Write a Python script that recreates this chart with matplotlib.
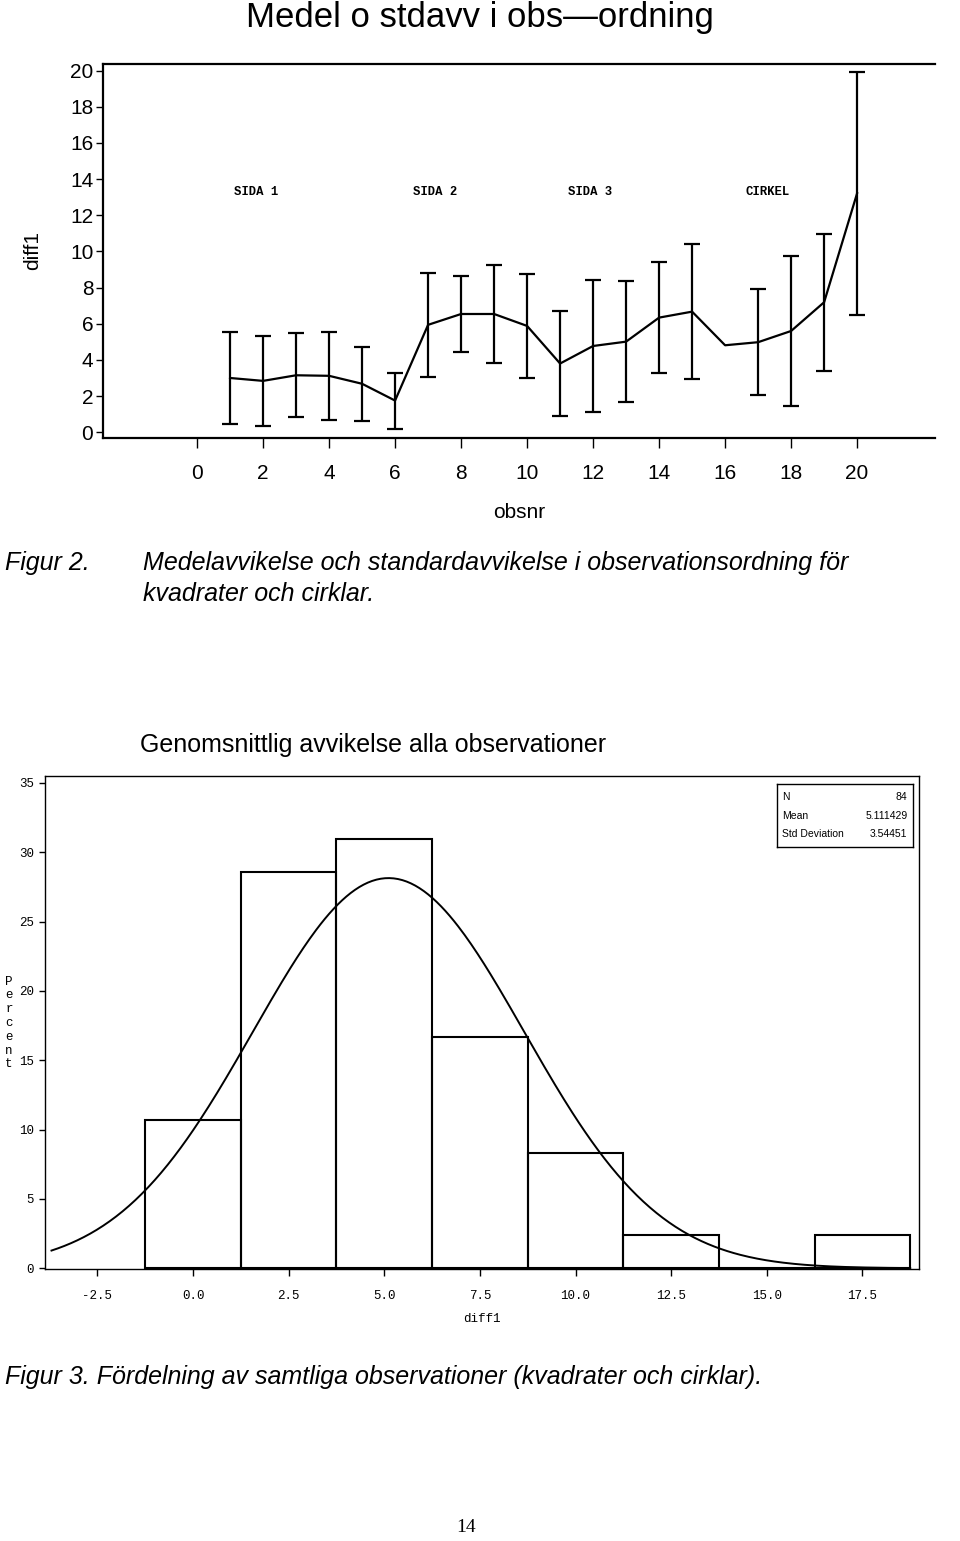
import numpy as np
import matplotlib
matplotlib.use("Agg")
import matplotlib.pyplot as plt

# Figur 2: medelavvikelse och standardavvikelse per observation
obsnr = np.arange(1, 21)
medel = [3.00, 2.84, 3.15, 3.12, 2.68, 1.75, 5.94, 6.54, 6.54, 5.88,
         3.80, 4.77, 5.01, 6.34, 6.67, 4.81, 4.98, 5.60, 7.19, 13.22]
stdavv = [2.57, 2.51, 2.33, 2.43, 2.05, 1.55, 2.88, 2.10, 2.72, 2.86,
          2.88, 3.64, 3.34, 3.09, 3.73, np.nan, 2.94, 4.16, 3.78, 6.73]
sidor = ["SIDA 1", "SIDA 2", "SIDA 3", "CIRKEL"]
sida_x = [1.8, 7.2, 11.9, 17.3]

# Figur 3: fördelning av diff1 (procent per klass)
klass_mitt = [0.0, 2.5, 5.0, 7.5, 10.0, 12.5, 15.0, 17.5]
antal = [9, 24, 26, 14, 7, 2, 0, 2]
N = 84
mean_diff = 5.111429
std_diff = 3.54451

W, H = 960, 1541
fig = plt.figure(figsize=(W / 100, H / 100), dpi=100)


def fx(px):
    return px / W


def fy(py):
    return 1 - py / H


sans = ["Liberation Sans", "DejaVu Sans"]
mono = ["Liberation Mono", "DejaVu Sans Mono"]

# ---------- övre diagrammet ----------
ax = fig.add_axes([fx(103), fy(438), fx(935) - fx(103), fy(64) - fy(438)])
ax.errorbar(obsnr, medel, yerr=stdavv, color="black", lw=1.6,
            elinewidth=1.6, capsize=6, capthick=1.6)
for s, x in zip(sidor, sida_x):
    ax.text(x, 13.3, s, ha="center", va="center", fontsize=8.8,
            family=mono, fontweight="bold")
ax.set_xlim(-2.85, 22.36)
ax.set_ylim(-0.32, 20.37)
ax.set_xticks(np.arange(0, 21, 2))
ax.set_yticks(np.arange(0, 21, 2))
ax.spines["right"].set_visible(False)
for sp in ax.spines.values():
    sp.set_linewidth(1.6)
ax.tick_params(axis="x", direction="out", length=7, width=1, pad=12,
               labelsize=15)
ax.tick_params(axis="y", direction="out", length=5, width=1, pad=2,
               labelsize=15)
for lab in ax.get_xticklabels() + ax.get_yticklabels():
    lab.set_family(sans)
ax.set_xlabel("obsnr", fontsize=15, family=sans, labelpad=14)
ax.set_ylabel("diff1", fontsize=15, family=sans, labelpad=20)

fig.text(0.5, fy(18), "Medel o stdavv i obs\u2014ordning", ha="center",
         va="center", fontsize=25, family=sans)

fig.text(fx(5), fy(563), "Figur 2.", ha="left", va="center", fontsize=18,
         style="italic", family=sans)
fig.text(fx(143), fy(563),
         "Medelavvikelse och standardavvikelse i observationsordning för",
         ha="left", va="center", fontsize=18, style="italic", family=sans)
fig.text(fx(143), fy(594), "kvadrater och cirklar.", ha="left", va="center",
         fontsize=18, style="italic", family=sans)

# ---------- histogrammet ----------
procent = np.array(antal) / N * 100
ax2 = fig.add_axes([fx(45), fy(1269), fx(919) - fx(45), fy(776) - fy(1269)])
ax2.bar(klass_mitt, procent, width=2.5, fill=False, edgecolor="black",
        lw=1.5)
xs = np.linspace(-3.7, 18.75, 400)
ys = 100 * 2.5 * np.exp(-0.5 * ((xs - mean_diff) / std_diff) ** 2) / (
    std_diff * np.sqrt(2 * np.pi))
ax2.plot(xs, ys, color="black", lw=1.4)
ax2.set_xlim(-3.87, 18.98)
ax2.set_ylim(-0.05, 35.5)
ax2.set_xticks(np.arange(-2.5, 17.6, 2.5))
ax2.set_yticks(np.arange(0, 36, 5))
ax2.set_xticklabels([f"{v:.1f}" for v in np.arange(-2.5, 17.6, 2.5)])
for sp in ax2.spines.values():
    sp.set_linewidth(1.0)
ax2.tick_params(axis="x", direction="out", length=5, width=1, pad=10,
                labelsize=9)
ax2.tick_params(axis="y", direction="out", length=4, width=1, pad=4,
                labelsize=9)
for lab in ax2.get_xticklabels() + ax2.get_yticklabels():
    lab.set_family(mono)
ax2.set_xlabel("diff1", fontsize=9, family=mono, labelpad=8)

fig.text(fx(9), fy(1023), "\n".join("Percent"), ha="center", va="center",
         fontsize=9, family=mono, linespacing=1.2)

# statistikruta
box = ax2.inset_axes([(777 - 45) / 874, (1269 - 847) / 493,
                      (913 - 777) / 874, (847 - 784) / 493])
box.set_xticks([])
box.set_yticks([])
for sp in box.spines.values():
    sp.set_linewidth(1.0)
rader = [("N", f"{N}"), ("Mean", f"{mean_diff:.6f}"),
         ("Std Deviation", f"{std_diff:.5f}")]
for i, (k, v) in enumerate(rader):
    yy = 0.80 - i * 0.30
    box.text(0.04, yy, k, fontsize=7.5, family=sans, va="center",
             transform=box.transAxes)
    box.text(0.96, yy, v, fontsize=7.5, family=sans, va="center",
             ha="right", transform=box.transAxes)

fig.text(fx(140), fy(745), "Genomsnittlig avvikelse alla observationer",
         ha="left", va="center", fontsize=18, family=sans)

fig.text(fx(5), fy(1377),
         "Figur 3. Fördelning av samtliga observationer (kvadrater och cirklar).",
         ha="left", va="center", fontsize=18, style="italic", family=sans)

fig.text(fx(466), fy(1528), "14", ha="center", va="center", fontsize=14,
         family=["Liberation Serif", "DejaVu Serif"])

fig.savefig("out.png", dpi=100, facecolor="white")
